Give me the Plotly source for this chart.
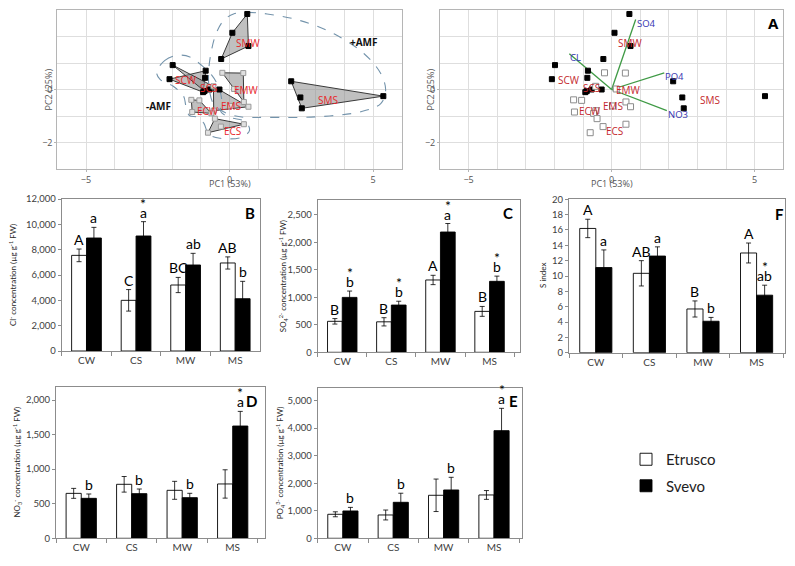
import plotly.graph_objects as go

W, H = 795, 566

# ---------------- PCA data ----------------
groups = ["SMW", "SMS", "SCW", "SCS", "EMW", "EMS", "ECW", "ECS"]
svevo_groups = ["SMW", "SMS", "SCW", "SCS"]
pc1 = {
    "SMW": [0.62, 0.10, 0.66, -0.29],
    "SMS": [2.15, 2.47, 2.52, 5.36],
    "SCW": [-2.09, -0.83, -0.85, -0.92],
    "SCS": [-1.98, -0.35, -0.70, -0.87],
    "EMW": [-0.25, 0.48, 0.50, 0.16],
    "EMS": [-0.56, 0.66, -0.55, 0.03],
    "ECW": [-1.33, -1.05, -1.30, -0.63],
    "ECS": [-0.51, 0.50, -0.75, -0.30],
}
pc2 = {
    "SMW": [2.85, 2.14, 1.64, 1.15],
    "SMS": [0.31, -0.30, -0.71, -0.25],
    "SCW": [0.39, 0.71, 0.44, -0.10],
    "SCS": [0.92, 0.00, 0.00, -0.06],
    "EMW": [0.63, 0.62, -0.47, 0.02],
    "EMS": [0.12, -0.65, -0.80, -0.62],
    "ECW": [-0.39, -0.41, -0.85, -0.90],
    "ECS": [-1.10, -1.31, -1.63, -1.40],
}
label_pc1 = {"SMW": 0.65, "SMS": 3.43, "SCW": -1.50, "SCS": -0.72,
             "EMW": 0.60, "EMS": 0.05, "ECW": -0.76, "ECS": 0.10}
label_pc2 = {"SMW": 1.76, "SMS": -0.40, "SCW": 0.35, "SCS": 0.04,
             "EMW": 0.00, "EMS": -0.64, "ECW": -0.81, "ECS": -1.56}

load_names = ["SO4", "CL", "PO4", "NO3"]
load_pc1 = [0.84, -1.48, 1.84, 1.93]
load_pc2 = [2.64, 1.35, 0.63, -0.80]

# dashed envelopes (AMF groups)
env_minus_x = [-2.54, -2.25, -1.84, -1.38, -0.97, -0.62, -0.38, -0.27, -0.30, 0.02, 0.55, 0.70,
               0.43, -0.33, -0.73, -0.89, -1.10, -1.40, -1.52, -1.60, -1.96, -2.42, -2.54]
env_minus_y = [0.66, 1.10, 1.29, 1.23, 0.91, 0.54, 0.10, -0.40, -0.84, -1.05, -1.21, -1.53,
               -1.80, -1.84, -1.68, -1.28, -1.05, -0.98, -0.62, -0.25, 0.12, 0.38, 0.66]
env_plus_x = [0.14, 0.61, 1.31, 2.47, 3.64, 4.69, 5.27, 5.44, 5.27, 4.57, 3.05, 1.31, 0.37,
              -0.21, -0.56, -0.70, -0.73, -0.65, -0.47, -0.21, 0.14]
env_plus_y = [2.85, 2.91, 2.85, 2.60, 2.10, 1.35, 0.60, -0.03, -0.53, -0.84, -1.03, -1.05, -1.03,
              -0.84, -0.53, -0.03, 0.60, 1.35, 2.10, 2.60, 2.85]

# ---------------- Bar data ----------------
cats = ["CW", "CS", "MW", "MS"]

cl_etr = [7550, 4000, 5210, 6950]
cl_etr_err = [500, 850, 600, 480]
cl_sve = [8920, 9080, 6790, 4130]
cl_sve_err = [840, 1130, 920, 1370]
cl_etr_let = ["A", "C", "BC", "AB"]
cl_sve_let = ["a", "a", "ab", "b"]
cl_star = [False, True, False, False]

so4_etr = [564, 555, 1317, 745]
so4_etr_err = [50, 75, 85, 90]
so4_sve = [1000, 860, 2190, 1292]
so4_sve_err = [115, 70, 155, 95]
so4_etr_let = ["B", "B", "A", "B"]
so4_sve_let = ["b", "b", "a", "b"]
so4_star = [True, True, True, True]

s_etr = [16.2, 10.35, 5.7, 13.0]
s_etr_err = [1.2, 1.65, 1.05, 1.3]
s_sve = [11.1, 12.6, 4.1, 7.5]
s_sve_err = [2.3, 1.2, 0.5, 1.3]
s_etr_let = ["A", "AB", "B", "A"]
s_sve_let = ["a", "a", "b", "ab"]
s_star = [False, False, False, True]

no3_etr = [650, 781, 694, 786]
no3_etr_err = [72, 113, 130, 205]
no3_sve = [578, 646, 588, 1624]
no3_sve_err = [63, 67, 63, 212]
no3_etr_let = ["", "", "", ""]
no3_sve_let = ["b", "b", "b", "a"]
no3_star = [False, False, False, True]

po4_etr = [872, 847, 1562, 1574]
po4_etr_err = [90, 180, 590, 160]
po4_sve = [993, 1307, 1755, 3910]
po4_sve_err = [130, 330, 460, 810]
po4_etr_let = ["", "", "", ""]
po4_sve_let = ["b", "b", "b", "a"]
po4_star = [False, False, False, True]


def hull(xs, ys):
    pts = sorted(set(zip(xs, ys)))
    if len(pts) <= 2:
        return pts

    def cross(o, a, b):
        return (a[0] - o[0]) * (b[1] - o[1]) - (a[1] - o[1]) * (b[0] - o[0])
    lower, upper = [], []
    for p in pts:
        while len(lower) >= 2 and cross(lower[-2], lower[-1], p) <= 0:
            lower.pop()
        lower.append(p)
    for p in reversed(pts):
        while len(upper) >= 2 and cross(upper[-2], upper[-1], p) <= 0:
            upper.pop()
        upper.append(p)
    return lower[:-1] + upper[:-1]


def px2dx(px):
    return px / W


def py2dy(py):
    return 1 - py / H


fig = go.Figure()
ann = []


def note(**kw):
    kw.setdefault("xanchor", "center")
    kw.setdefault("yanchor", "middle")
    kw.setdefault("showarrow", False)
    ann.append(kw)


PFONT = "Open Sans, DejaVu Sans, sans-serif"
BFONT = "Lato, Open Sans, sans-serif"

# ---------------- Left PCA ----------------
for g in groups:
    h = hull(pc1[g], pc2[g])
    hx = [p[0] for p in h] + [h[0][0]]
    hy = [p[1] for p in h] + [h[0][1]]
    fig.add_trace(go.Scatter(x=hx, y=hy, mode="lines", fill="toself",
                             fillcolor="rgba(140,140,140,0.55)",
                             line=dict(color="#3a3a3a", width=1),
                             xaxis="x", yaxis="y", showlegend=False, hoverinfo="skip"))
for ex, ey in [(env_minus_x, env_minus_y), (env_plus_x, env_plus_y)]:
    fig.add_trace(go.Scatter(x=ex, y=ey, mode="lines",
                             line=dict(color="#7393ab", width=1.1, dash="dash", shape="spline", smoothing=1.0),
                             xaxis="x", yaxis="y", showlegend=False, hoverinfo="skip"))
for g in groups:
    sv = g in svevo_groups
    fig.add_trace(go.Scatter(x=pc1[g], y=pc2[g], mode="markers",
                             marker=dict(symbol="square", size=5,
                                         color="black" if sv else "#e0e0e0",
                                         line=dict(color="black" if sv else "#999999", width=1)),
                             xaxis="x", yaxis="y", showlegend=False))
    note(x=label_pc1[g], y=label_pc2[g], xref="x", yref="y", text=g,
         font=dict(family=PFONT, size=10, color="#e8262a"))
note(x=4.67, y=1.81, xref="x", yref="y", text="<b>+AMF</b>", font=dict(family=PFONT, size=10, color="#111"))
note(x=-2.46, y=-0.62, xref="x", yref="y", text="<b>-AMF</b>", font=dict(family=PFONT, size=10, color="#111"))

# ---------------- Right PCA ----------------
for nm, lx, ly in zip(load_names, load_pc1, load_pc2):
    fig.add_trace(go.Scatter(x=[0, lx], y=[0, ly], mode="lines",
                             line=dict(color="#3f9a45", width=1.3),
                             xaxis="x2", yaxis="y2", showlegend=False, hoverinfo="skip"))
    note(x=lx, y=ly, xref="x2", yref="y2", text=nm, xanchor="left", yshift=-4, xshift=-1,
         font=dict(family=PFONT, size=9.5, color="#3535b0"))
for g in groups:
    sv = g in svevo_groups
    fig.add_trace(go.Scatter(x=pc1[g], y=pc2[g], mode="markers",
                             marker=dict(symbol="square", size=5 if sv else 6,
                                         color="black" if sv else "white",
                                         line=dict(color="black" if sv else "#8c8c8c", width=1)),
                             xaxis="x2", yaxis="y2", showlegend=False))
    note(x=label_pc1[g], y=label_pc2[g], xref="x2", yref="y2", text=g,
         font=dict(family=PFONT, size=10, color="#c4282d"))
note(x=px2dx(773), y=py2dy(23), xref="paper", yref="paper", text="<b>A</b>",
     font=dict(family=PFONT, size=15, color="black"))

pca_axis = dict(showgrid=True, gridcolor="#dedede", gridwidth=1, zeroline=False,
                showline=True, mirror=True, linecolor="#b5b5b5", linewidth=1,
                ticks="outside", ticklen=2, tickcolor="#b5b5b5", automargin=False,
                tickfont=dict(family=PFONT, size=9, color="#555"), fixedrange=True)

layout = dict(width=W, height=H, margin=dict(l=0, r=0, t=0, b=0, pad=0, autoexpand=False),
              paper_bgcolor="white", plot_bgcolor="white",
              barmode="group", bargap=0.4, bargroupgap=0,
              font=dict(family=BFONT))

for ax, dom in [("", [px2dx(57.3), px2dx(401.7)]), ("2", [px2dx(440), px2dx(783.3)])]:
    layout["xaxis" + ax] = dict(pca_axis, domain=dom, range=[-6, 6], tickvals=[-5, 0, 5],
                                minor=dict(tickvals=list(range(-6, 7)), showgrid=True,
                                           gridcolor="#dedede", ticklen=0),
                                anchor="y" + ax)
    layout["yaxis" + ax] = dict(pca_axis, domain=[py2dy(169), py2dy(10)], range=[-3, 3],
                                tickvals=[-2, 0],
                                minor=dict(tickvals=list(range(-3, 4)), showgrid=True,
                                           gridcolor="#dedede", ticklen=0),
                                anchor="x" + ax)
for xr, ypx in [("x", 48), ("x2", 430)]:
    note(x=0, y=py2dy(183), xref=xr, yref="paper", text="PC1 (53%)",
         font=dict(family=PFONT, size=9, color="#555"))
    note(x=px2dx(ypx), y=0, xref="paper", yref=("y" if xr == "x" else "y2"),
         text="PC2 (25%)", textangle=-90, font=dict(family=PFONT, size=9, color="#555"))

# ---------------- Bar panels ----------------
panels = [
    dict(ax="3", xd=(61.7, 260), xmax=3.5, yd=(351, 199), ymax=12000, dtick=2000,
         etr=cl_etr, etr_err=cl_etr_err, sve=cl_sve, sve_err=cl_sve_err,
         etr_let=cl_etr_let, sve_let=cl_sve_let, star=cl_star,
         title="Cl<sup>-</sup> concentration (µg g<sup>-1</sup> FW)", tx=12, lab="B", lpos=(250, 213)),
    dict(ax="4", xd=(317.7, 520), xmax=3.62, yd=(352.3, 200), ymax=2773, dtick=500,
         etr=so4_etr, etr_err=so4_etr_err, sve=so4_sve, sve_err=so4_sve_err,
         etr_let=so4_etr_let, sve_let=so4_sve_let, star=so4_star,
         title="SO<sub>4</sub><sup>2-</sup> concentration (µg g<sup>-1</sup> FW)", tx=283, lab="C", lpos=(508, 213)),
    dict(ax="5", xd=(569, 785), xmax=3.53, yd=(352.7, 199.3), ymax=20, dtick=2,
         etr=s_etr, etr_err=s_etr_err, sve=s_sve, sve_err=s_sve_err,
         etr_let=s_etr_let, sve_let=s_sve_let, star=s_star,
         title="S index", tx=543, lab="F", lpos=(779, 214)),
    dict(ax="6", xd=(56, 265), xmax=3.64, yd=(538.3, 386.7), ymax=2193, dtick=500,
         etr=no3_etr, etr_err=no3_etr_err, sve=no3_sve, sve_err=no3_sve_err,
         etr_let=no3_etr_let, sve_let=no3_sve_let, star=no3_star,
         title="NO<sub>3</sub><sup>-</sup> concentration (µg g<sup>-1</sup> FW)", tx=17, lab="D", lpos=(251, 401)),
    dict(ax="7", xd=(317.7, 521.7), xmax=3.55, yd=(538.3, 388.3), ymax=5448, dtick=1000,
         etr=po4_etr, etr_err=po4_etr_err, sve=po4_sve, sve_err=po4_sve_err,
         etr_let=po4_etr_let, sve_let=po4_sve_let, star=po4_star,
         title="PO<sub>4</sub><sup>3-</sup> concentration (µg g<sup>-1</sup> FW)", tx=280, lab="E", lpos=(513, 401)),
]

bar_axis_line = "#8c8c8c"
for i, p in enumerate(panels):
    a = p["ax"]
    first = (i == 0)
    fig.add_trace(go.Bar(x=cats, y=p["etr"], name="Etrusco", legendgroup="etr", showlegend=first,
                         marker=dict(color="white", line=dict(color="black", width=0.9)),
                         error_y=dict(type="data", array=p["etr_err"], color="black", thickness=0.8, width=2.5),
                         xaxis="x" + a, yaxis="y" + a))
    fig.add_trace(go.Bar(x=cats, y=p["sve"], name="Svevo", legendgroup="sve", showlegend=first,
                         marker=dict(color="black", line=dict(color="black", width=0.9)),
                         error_y=dict(type="data", array=p["sve_err"], color="black", thickness=0.8, width=2.5),
                         xaxis="x" + a, yaxis="y" + a))
    layout["xaxis" + a] = dict(domain=[px2dx(p["xd"][0]), px2dx(p["xd"][1])], type="category",
                               range=[-0.5, p["xmax"]],
                               anchor="y" + a, tickson="boundaries", ticks="outside", ticklen=4,
                               tickcolor=bar_axis_line, showline=True, mirror=True,
                               linecolor=bar_axis_line, linewidth=1, showgrid=False, automargin=False,
                               tickfont=dict(family=BFONT, size=10, color="#404040"), fixedrange=True)
    layout["yaxis" + a] = dict(domain=[py2dy(p["yd"][0]), py2dy(p["yd"][1])], range=[0, p["ymax"]],
                               dtick=p["dtick"], tick0=0, tickformat=",", anchor="x" + a,
                               ticks="outside", ticklen=3, tickcolor=bar_axis_line,
                               showline=True, mirror=True, linecolor=bar_axis_line, linewidth=1,
                               showgrid=False, zeroline=False, automargin=False,
                               tickfont=dict(family=BFONT, size=9.5, color="#404040"), fixedrange=True)
    cat_px = (p["xd"][1] - p["xd"][0]) / (p["xmax"] + 0.5)
    shift = cat_px * (1 - 0.4) / 4
    for j, c in enumerate(cats):
        for vals, errs, lets, sgn, st in [(p["etr"], p["etr_err"], p["etr_let"], -1, None),
                                          (p["sve"], p["sve_err"], p["sve_let"], 1, p["star"][j])]:
            if lets[j]:
                note(x=c, y=vals[j] + errs[j], xref="x" + a, yref="y" + a, text=lets[j],
                     xshift=sgn * shift, yanchor="bottom", yshift=-1,
                     font=dict(family=BFONT, size=14, color="black"))
            if st:
                note(x=c, y=vals[j] + errs[j], xref="x" + a, yref="y" + a, text="*",
                     xshift=sgn * shift, yanchor="bottom", yshift=8,
                     font=dict(family=BFONT, size=14, color="black"))
    note(x=px2dx(p["tx"]), y=(py2dy(p["yd"][0]) + py2dy(p["yd"][1])) / 2,
         xref="paper", yref="paper", text=p["title"], textangle=-90,
         font=dict(family=BFONT, size=8, color="#262626"))
    note(x=px2dx(p["lpos"][0]), y=py2dy(p["lpos"][1]), xref="paper", yref="paper",
         text="<b>%s</b>" % p["lab"], font=dict(family=BFONT, size=15, color="black"))

layout["annotations"] = ann
layout["legend"] = dict(x=px2dx(626), y=py2dy(443), xanchor="left", yanchor="top",
                        font=dict(family=BFONT, size=15, color="#222"),
                        bgcolor="rgba(0,0,0,0)", tracegroupgap=4, itemclick=False, itemwidth=30)
fig.update_layout(**layout)
fig.write_html("out.html", config={"displayModeBar": False},
               post_script="document.body.style.margin='0';document.body.style.padding='0';"
                           "document.documentElement.style.overflow='hidden';")
